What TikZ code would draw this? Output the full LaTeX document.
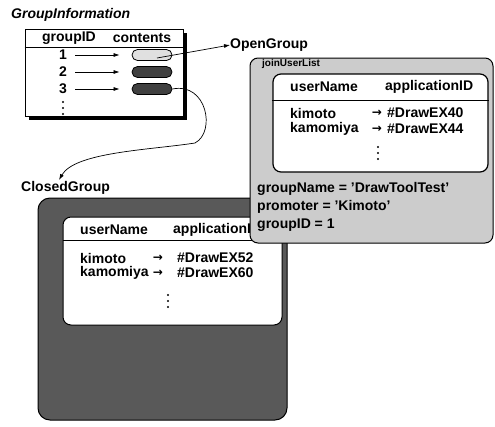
\documentclass[tikz,border=0pt]{standalone}
\usepackage{fontspec}
\setmainfont{Liberation Sans}
\newfontfamily\symfont{DejaVu Sans}
\usetikzlibrary{arrows.meta,shadows}
\begin{document}
\begin{tikzpicture}[x=1pt,y=-1pt,
  lbl/.style={font=\fontsize{14}{16}\selectfont\bfseries, inner sep=0pt, anchor=west},
  ctr/.style={font=\fontsize{14}{16}\selectfont\bfseries, inner sep=0pt},
  tarr/.style={font=\symfont\fontsize{12}{14}\selectfont\bfseries, inner sep=0pt},
  arr/.style={-{Latex[length=6pt,width=4pt]}, line width=0.7pt},
  oval/.style={draw, line width=0.8pt, rounded corners=5.5pt, minimum width=40pt, minimum height=11pt, inner sep=0pt},
  panel/.style={draw, line width=1pt, inner sep=0pt},
  dotcol/.style={minimum width=4pt, minimum height=16pt, inner sep=0pt},
]
\useasboundingbox (0,0) rectangle (495,426);

% ---------- GroupInformation table ----------
\node[lbl, font=\fontsize{14}{16}\selectfont\bfseries\itshape] (gititle) at (11,15) {GroupInformation};
\node[panel, fill=white, minimum width=158pt, minimum height=87pt,
      drop shadow={shadow xshift=4pt, shadow yshift=-4pt, fill=black, opacity=1}] (gitab) at (104,72.5) {};
\draw[line width=0.8pt] (gitab.west |- 0,47) -- (gitab.east |- 0,47);
\node[ctr] (hgid) at (69,38) {groupID};
\node[ctr] (hcont) at (142,38) {contents};

\node[ctr] (n1) at (63,55) {1};
\node[ctr] (n2) at (63,72) {2};
\node[ctr] (n3) at (63,89) {3};
\node[oval, fill=black!12] (o1) at (152,55) {};
\node[oval, fill=black!75] (o2) at (152,72) {};
\node[oval, fill=black!75] (o3) at (152,89) {};
\draw[arr] ([xshift=8pt]n1.east) -- ([xshift=-12pt]o1.west);
\draw[arr] ([xshift=8pt]n2.east) -- ([xshift=-12pt]o2.west);
\draw[arr] ([xshift=8pt]n3.east) -- ([xshift=-12pt]o3.west);
\node[dotcol] (gdots) at (63,108) {};
\foreach \d in {-6,0,6} \fill ([yshift=\d pt]gdots.center) circle (1.1pt);

% ---------- labels and connectors ----------
\node[lbl] (ogl) at (230,45) {OpenGroup};
\node[lbl] (cgl) at (21,188) {ClosedGroup};
\coordinate (cgtip) at (59,180);
\draw[arr] ([xshift=5pt,yshift=-3pt]o1.center) -- (ogl.west);
\draw[arr] (o3.east) .. controls (207,82) and (216,132) .. (195,143)
                      .. controls (150,150) and (75,152) .. (cgtip);

% ---------- ClosedGroup panel ----------
\node[panel, fill=black!65, rounded corners=12pt, minimum width=249pt, minimum height=222pt] (cgbox) at (162.5,309) {};
\node[panel, fill=white, rounded corners=8pt, minimum width=219pt, minimum height=108pt] (cgin) at (172.5,271) {};
\draw[line width=0.8pt] (cgin.west |- 0,240) -- (cgin.east |- 0,240);
\node[lbl] (cun) at (80,230) {userName};
\node[lbl] (cap) at (173,230) {applicationID};
\node[lbl] (ck1) at (80,258) {kimoto};
\node[tarr] (ca1) at (158,258) {→};
\node[lbl] (cd1) at (177,258) {\#DrawEX52};
\node[lbl] (ck2) at (80,273) {kamomiya};
\node[tarr] (ca2) at (158,273) {→};
\node[lbl] (cd2) at (177,273) {\#DrawEX60};
\node[dotcol] (cdots) at (168,301) {};
\foreach \d in {-6,0,6} \fill ([yshift=\d pt]cdots.center) circle (1.1pt);

% ---------- OpenGroup panel ----------
\node[panel, fill=black!20, rounded corners=8pt, minimum width=243pt, minimum height=185pt] (ogbox) at (371.5,150.5) {};
\node[lbl, font=\fontsize{10}{12}\selectfont\bfseries] (jul) at (262,64) {joinUserList};
\node[panel, line width=1.2pt, fill=white, rounded corners=8pt, minimum width=215pt, minimum height=98pt] (ogin) at (380.5,123) {};
\draw[line width=0.8pt] (ogin.west |- 0,100) -- (ogin.east |- 0,100);
\node[lbl] (oun) at (290,87) {userName};
\node[lbl] (oap) at (385,87) {applicationID};
\node[lbl] (ok1) at (290,113) {kimoto};
\node[tarr] (oa1) at (377,113) {→};
\node[lbl] (od1) at (387,113) {\#DrawEX40};
\node[lbl] (ok2) at (290,129) {kamomiya};
\node[tarr] (oa2) at (377,129) {→};
\node[lbl] (od2) at (387,129) {\#DrawEX44};
\node[dotcol] (odots) at (378,153) {};
\foreach \d in {-6,0,6} \fill ([yshift=\d pt]odots.center) circle (1.1pt);
\node[lbl] (gname) at (257,189) {groupName = 'DrawToolTest'};
\node[lbl] (gprom) at (257,207) {promoter = 'Kimoto'};
\node[lbl] (ggid) at (257,225) {groupID = 1};
\end{tikzpicture}
\end{document}
